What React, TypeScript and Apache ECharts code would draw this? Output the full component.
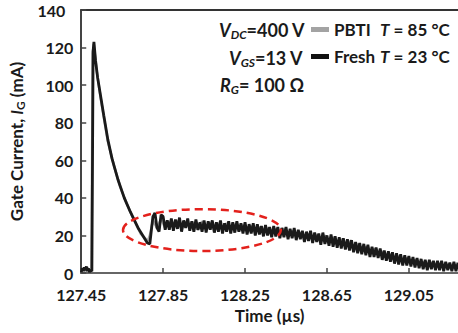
import React, { useEffect, useRef } from "react";
import * as echarts from "echarts";

const FONT = "Lato, 'Open Sans', sans-serif";

// Axis settings (µs, mA)
const timeMin = 127.45;
const timeMax = 129.29;
const timeTickInterval = 0.4;
const currentMin = 0;
const currentMax = 140;
const currentTickInterval = 20;

// Fresh (T = 23 °C): rise / peak / decay
const freshHeadTime = [127.45, 127.455, 127.46, 127.465, 127.47, 127.475, 127.48, 127.485, 127.49, 127.495, 127.502, 127.508, 127.512, 127.52, 127.53, 127.545, 127.56, 127.58, 127.6, 127.63, 127.66, 127.69, 127.73, 127.773, 127.785];
const freshHeadCurrent = [0.5, 2.5, 1, 3, 1.5, 3.5, 1, 2.5, 0.5, 1.5, 1, 118, 123, 113, 104, 94, 84, 71, 61, 49.5, 40, 32.5, 23.5, 16, 15.5];
// Fresh: noisy plateau and tail, sampled every 0.01 µs from 127.80 µs
const freshBandStart = 127.8;
const freshBandStep = 0.01;
const freshBandCurrent = [
  30, 32, 24, 22, 31, 30, 23, 28, 23, 29,
  22.5, 28.5, 23.5, 29.5, 22, 28, 24, 29, 22.5, 27.5,
  22, 28.5, 23, 27, 22, 28, 21.5, 27.5, 23, 28,
  21.5, 27, 22, 28, 21, 26.5, 22, 27.5, 21, 27,
  21.5, 27.5, 22, 26.5, 21, 27, 20.5, 26, 21, 26.5,
  20, 26, 20.5, 25, 19.5, 25.5, 20, 24.5, 19, 25,
  19.5, 24.5, 18.5, 24, 19, 24.5, 18, 23.5, 18.5, 24,
  17.5, 23, 18, 22.5, 16.5, 22, 17, 22.5, 16, 21.5,
  16.5, 21, 15, 21.5, 15.5, 20, 14.5, 20.5, 14, 19.5,
  13.5, 19, 13, 18.5, 12.5, 18, 12, 17.5, 11, 16.5,
  10.5, 16, 10, 15.5, 9.5, 15, 8.5, 14, 8.5, 13.5,
  8, 13, 7, 12, 6.5, 11.5, 6, 11, 5, 10.5,
  4.5, 10, 4, 9.5, 4, 9, 3.5, 8.5, 3, 8,
  2.5, 7.5, 2, 7, 1.5, 7, 2, 6.5, 1.5, 6.5,
  1.5, 6.5, 1, 6, 1.5, 5.5, 1, 6, 1, 5.5,
];

// PBTI (T = 85 °C)
const pbtiHeadTime = [127.45, 127.46, 127.47, 127.48, 127.49, 127.5, 127.506, 127.511, 127.525, 127.545, 127.56, 127.58, 127.61, 127.64, 127.67, 127.7, 127.74, 127.775, 127.785];
const pbtiHeadCurrent = [1, 2.5, 1, 3, 1, 1.5, 117, 122, 108, 93, 83, 70, 57, 46, 37.5, 30, 21, 17, 20];
const pbtiBandStart = 127.8;
const pbtiBandStep = 0.02;
const pbtiBandCurrent = [
  28, 24, 29, 24, 27.5, 24, 28, 23.5, 27.5, 24,
  27, 23, 27.5, 23, 27, 23, 26.5, 22.5, 26.5, 22.5,
  26, 22.5, 25.5, 22, 25, 21.5, 24.5, 21, 24, 20.5,
  23.5, 20, 23.5, 19.5, 22.5, 19, 21.5, 18, 21, 17.5,
  20.5, 16.5, 20, 16, 19, 15, 18, 14, 17, 12.5,
  15.5, 11.5, 14, 10.5, 13, 9.5, 11.5, 8, 10, 7,
  9, 6, 8, 5, 7, 4, 6, 3.5, 5.5, 3,
  5, 3, 4.5, 3, 4.5,
];

// Highlighted region (dashed ellipse), in data units
const ellipseTimeRange = [127.654, 128.425];
const ellipseCurrentRange = [11.7, 34];

const seriesNames = ["PBTI", "Fresh"];
const seriesTemps = ["85 °C", "23 °C"];

function buildData(headT: number[], headI: number[], start: number, step: number, band: number[]) {
  const head = headT.map((t, i) => [t, headI[i]]);
  const tail = band.map((v, i) => [Number((start + i * step).toFixed(3)), v]);
  return head.concat(tail);
}

export default function App() {
  const ref = useRef<HTMLDivElement>(null);

  useEffect(() => {
    document.body.style.margin = "0";
    if (!ref.current) return;
    const chart = echarts.init(ref.current, null, { renderer: "svg" });

    const freshData = buildData(freshHeadTime, freshHeadCurrent, freshBandStart, freshBandStep, freshBandCurrent);
    const pbtiData = buildData(pbtiHeadTime, pbtiHeadCurrent, pbtiBandStart, pbtiBandStep, pbtiBandCurrent);

    const labelColor = "#1a1a1a";
    const boldTxt = { fontFamily: FONT, fontSize: 17, fontWeight: "bold", color: labelColor };

    const option: any = {
      animation: false,
      textStyle: { fontFamily: FONT },
      grid: { left: 78, right: 0, top: 10, bottom: 60 },
      legend: {
        orient: "vertical",
        left: 311,
        top: 21,
        padding: 0,
        itemWidth: 18,
        itemHeight: 5,
        itemGap: 10,
        icon: "rect",
        data: seriesNames,
        formatter: (name: string) => {
          const idx = seriesNames.indexOf(name);
          return `{n|${name}}{i|T}{t| = ${seriesTemps[idx]}}`;
        },
        textStyle: {
          fontFamily: FONT,
          rich: {
            n: { ...boldTxt, width: 46, lineHeight: 18 },
            i: { ...boldTxt, fontStyle: "italic", lineHeight: 18 },
            t: { ...boldTxt, lineHeight: 18 },
          },
        },
      },
      xAxis: [
        {
          type: "value",
          min: timeMin,
          max: timeMax,
          interval: timeTickInterval,
          name: "Time (µs)",
          nameLocation: "middle",
          nameGap: 34,
          nameTextStyle: boldTxt,
          axisLine: { lineStyle: { color: "#666", width: 2 } },
          axisTick: { inside: true, length: 5, lineStyle: { color: "#444", width: 1.5 } },
          axisLabel: {
            showMaxLabel: false,
            margin: 13,
            fontFamily: FONT,
            fontSize: 16,
            fontWeight: "bold",
            color: labelColor,
            formatter: (v: number) => v.toFixed(2),
          },
          splitLine: { show: false },
        },
        {
          type: "value",
          position: "top",
          min: timeMin,
          max: timeMax,
          axisLine: { show: true, lineStyle: { color: "#333", width: 2 } },
          axisTick: { show: false },
          axisLabel: { show: false },
          splitLine: { show: false },
        },
      ],
      yAxis: {
        type: "value",
        min: currentMin,
        max: currentMax,
        interval: currentTickInterval,
        name: "{b|Gate Current, }{i|I}{s|G}{b| (mA)}",
        nameLocation: "middle",
        nameGap: 50,
        nameTextStyle: {
          ...boldTxt,
          rich: {
            b: { ...boldTxt },
            i: { ...boldTxt, fontStyle: "italic" },
            s: { ...boldTxt, fontSize: 12, verticalAlign: "bottom", padding: [8, 0, 0, 0] },
          },
        },
        axisLine: { show: true, lineStyle: { color: "#444", width: 2 } },
        axisTick: { show: true, inside: true, length: 5, lineStyle: { color: "#444", width: 1.5 } },
        axisLabel: {
          margin: 8,
          fontFamily: FONT,
          fontSize: 16,
          fontWeight: "bold",
          color: labelColor,
          formatter: (v: number) => (v === currentMax ? `{w|${v}}` : String(v)),
          rich: {
            w: { fontFamily: FONT, fontSize: 16, fontWeight: "bold", color: labelColor, padding: [0, 8, 0, 0] },
          },
        },
        splitLine: { show: false },
      },
      series: [
        {
          name: "PBTI",
          type: "line",
          data: pbtiData,
          showSymbol: false,
          symbol: "none",
          color: "#a3a3a3",
          lineStyle: { color: "#a3a3a3", width: 2.5 },
          z: 2,
        },
        {
          name: "Fresh",
          type: "line",
          data: freshData,
          showSymbol: false,
          symbol: "none",
          color: "#111",
          lineStyle: { color: "#1a1a1a", width: 2.8 },
          z: 3,
        },
      ],
    };

    chart.setOption(option);

    const pLeftTop = chart.convertToPixel({ gridIndex: 0 }, [ellipseTimeRange[0], ellipseCurrentRange[1]]) as number[];
    const pRightBottom = chart.convertToPixel({ gridIndex: 0 }, [ellipseTimeRange[1], ellipseCurrentRange[0]]) as number[];
    const cx = (pLeftTop[0] + pRightBottom[0]) / 2;
    const cy = (pLeftTop[1] + pRightBottom[1]) / 2;
    const rx = Math.abs(pRightBottom[0] - pLeftTop[0]) / 2;
    const ry = Math.abs(pRightBottom[1] - pLeftTop[1]) / 2;

    const big = { fontFamily: FONT, fontSize: 18, fontWeight: "bold", fill: labelColor };
    const richTxt = {
      v: { fontFamily: FONT, fontSize: 18, fontWeight: "bold", fontStyle: "italic", color: labelColor, lineHeight: 22 },
      s: { fontFamily: FONT, fontSize: 12, fontWeight: "bold", fontStyle: "italic", color: labelColor, lineHeight: 22, padding: [9, 0, 0, 0] },
      n: { fontFamily: FONT, fontSize: 18, fontWeight: "bold", color: labelColor, lineHeight: 22 },
    };

    chart.setOption({
      graphic: [
        {
          type: "ellipse",
          shape: { cx, cy, rx, ry },
          style: { fill: "none", stroke: "#e3211c", lineWidth: 2.5, lineDash: [8, 5] },
          z: 100,
          silent: true,
        },
        {
          type: "text",
          x: 219,
          y: 30,
          style: { ...big, text: "{v|V}{s|DC}{n|=400 V}", rich: richTxt, verticalAlign: "middle" },
          z: 100,
        },
        {
          type: "text",
          x: 229,
          y: 58,
          style: { ...big, text: "{v|V}{s|GS}{n|=13 V}", rich: richTxt, verticalAlign: "middle" },
          z: 100,
        },
        {
          type: "text",
          x: 220,
          y: 85,
          style: { ...big, text: "{v|R}{s|G}{n|= 100 Ω}", rich: richTxt, verticalAlign: "middle" },
          z: 100,
        },
      ],
    });

    return () => chart.dispose();
  }, []);

  return <div ref={ref} style={{ width: 458, height: 333 }} />;
}
